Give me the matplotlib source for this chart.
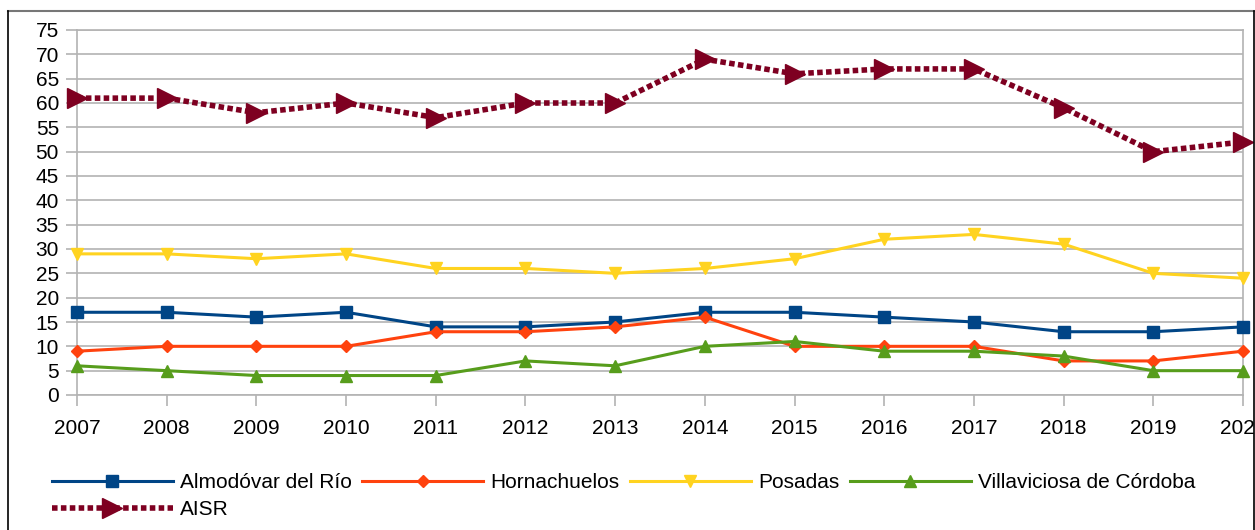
import matplotlib.pyplot as plt
from matplotlib.lines import Line2D

plt.rcParams['font.family'] = ['Liberation Sans', 'DejaVu Sans']

years = [2007, 2008, 2009, 2010, 2011, 2012, 2013, 2014, 2015, 2016, 2017, 2018, 2019, 2020]
almodovar = [17, 17, 16, 17, 14, 14, 15, 17, 17, 16, 15, 13, 13, 14]
hornachuelos = [9, 10, 10, 10, 13, 13, 14, 16, 10, 10, 10, 7, 7, 9]
posadas = [29, 29, 28, 29, 26, 26, 25, 26, 28, 32, 33, 31, 25, 24]
villaviciosa = [6, 5, 4, 4, 4, 7, 6, 10, 11, 9, 9, 8, 5, 5]
aisr = [61, 61, 58, 60, 57, 60, 60, 69, 66, 67, 67, 59, 50, 52]

fig = plt.figure(figsize=(12.55, 5.30), dpi=100)
ax = fig.add_axes([77 / 1255, 1 - 395 / 530, (1243 - 77) / 1255, (395 - 30) / 530])

h1, = ax.plot(years, almodovar, color='#004586', lw=2.2, marker='s', ms=9,
              label='Almodóvar del Río', clip_on=False, zorder=3)
h2, = ax.plot(years, hornachuelos, color='#ff420e', lw=2.2, marker='D', ms=6.5,
              label='Hornachuelos', clip_on=False, zorder=3)
h3, = ax.plot(years, posadas, color='#ffd320', lw=2.2, marker='v', ms=9,
              label='Posadas', clip_on=False, zorder=3)
h4, = ax.plot(years, villaviciosa, color='#579d1c', lw=2.2, marker='^', ms=9,
              label='Villaviciosa de Córdoba', clip_on=False, zorder=3)
h5, = ax.plot(years, aisr, color='#7e0021', lw=4, ls=(0, (1, 0.6)), marker='>', ms=15,
              label='AISR', clip_on=False, zorder=4)

ax.set_xlim(2007, 2020)
ax.set_ylim(0, 75)
ax.set_xticks(years)
ax.set_yticks(range(0, 76, 5))
ax.yaxis.grid(True, color='#b3b3b3', lw=1.2)
ax.set_axisbelow(True)
for s in ax.spines.values():
    s.set_color('#b3b3b3')
    s.set_linewidth(1.2)
ax.tick_params(axis='both', colors='#b3b3b3', labelcolor='black', labelsize=15,
               length=8, width=1.2)
ax.tick_params(axis='x', pad=9)
ax.tick_params(axis='y', pad=5)

# outer frame
fig.add_artist(Line2D([8 / 1255, 1254 / 1255], [1 - 10.5 / 530] * 2,
                      transform=fig.transFigure, color='#777777', lw=1.5))
fig.add_artist(Line2D([8 / 1255] * 2, [0, 1 - 10.5 / 530],
                      transform=fig.transFigure, color='black', lw=1.2))
fig.add_artist(Line2D([1254 / 1255] * 2, [0, 1 - 10.5 / 530],
                      transform=fig.transFigure, color='black', lw=1.2))

# legend is filled column by column, so AISR goes second to land in row 2
fig.legend([h1, h5, h2, h3, h4],
           [h.get_label() for h in (h1, h5, h2, h3, h4)],
           loc='upper left', bbox_to_anchor=(52 / 1255, 1 - 473 / 530), ncol=4,
           frameon=False, fontsize=15, handlelength=5.8, handletextpad=0.35,
           columnspacing=0.5, labelspacing=0.4, borderaxespad=0, borderpad=0)

fig.savefig('out.png', dpi=100)
